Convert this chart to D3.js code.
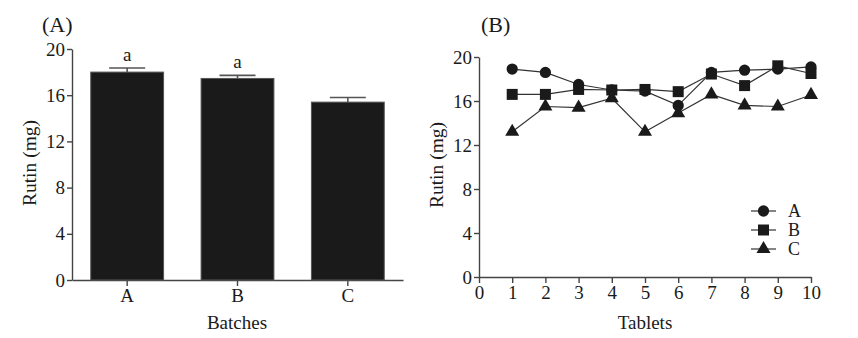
<!DOCTYPE html>
<html>
<head>
<meta charset="utf-8">
<script src="https://cdn.jsdelivr.net/npm/d3@7"></script>
<style>
  body { margin: 0; background: #fff; }
  svg { display: block; }
  .axis path, .axis line { stroke: #444; stroke-width: 1.4; }
</style>
</head>
<body>
<svg id="chart" width="858" height="338" font-family="Liberation Serif, Times New Roman, serif"></svg>
<script>
// Panel A: mean rutin per batch
const batches = ["A", "B", "C"];
const batchMeans = [18.0, 17.45, 15.4];
const batchErr = [0.35, 0.27, 0.4];
const batchLetters = ["a", "a", ""];

// Panel B: rutin per tablet
const tablets = [1, 2, 3, 4, 5, 6, 7, 8, 9, 10];
const seriesA = [18.9, 18.6, 17.5, 17.0, 16.9, 15.6, 18.6, 18.8, 18.9, 19.1];
const seriesB = [16.6, 16.6, 17.05, 17.0, 17.05, 16.85, 18.45, 17.4, 19.2, 18.5];
const seriesC = [13.2, 15.5, 15.4, 16.25, 13.2, 14.9, 16.6, 15.6, 15.5, 16.55];
const yTicks = [0, 4, 8, 12, 16, 20];
const xTicksB = [0, 1, 2, 3, 4, 5, 6, 7, 8, 9, 10];

const svg = d3.select("#chart");
const ink = "#1a1a1a";
const serif = "Liberation Serif, Times New Roman, serif";

function styleAxis(g) {
  g.attr("font-family", serif).attr("font-size", 19);
  g.selectAll("text").attr("fill", ink);
}

// ---------- panel A ----------
const xA = d3.scaleBand().domain(batches).range([72, 403])
  .paddingInner(0.34).paddingOuter(0.17);
const yA = d3.scaleLinear().domain([0, 20]).range([280, 49]);

svg.append("g").attr("class", "axis")
  .attr("transform", "translate(72,0)")
  .call(d3.axisLeft(yA).tickValues(yTicks).tickSize(5).tickSizeOuter(0).tickPadding(2))
  .call(styleAxis);

svg.append("g").attr("class", "axis")
  .attr("transform", "translate(0,280)")
  .call(d3.axisBottom(xA).tickSize(6).tickSizeOuter(0).tickPadding(3))
  .call(styleAxis);

const bars = batches.map((b, i) => ({ b, v: batchMeans[i], e: batchErr[i], l: batchLetters[i] }));

// error bars first so bar covers the lower half
const eb = svg.append("g").attr("stroke", "#555").attr("stroke-width", 1.6);
bars.forEach(d => {
  const cx = xA(d.b) + xA.bandwidth() / 2;
  eb.append("line").attr("x1", cx).attr("x2", cx).attr("y1", yA(d.v)).attr("y2", yA(d.v + d.e));
  eb.append("line").attr("x1", cx - 18).attr("x2", cx + 18).attr("y1", yA(d.v + d.e)).attr("y2", yA(d.v + d.e));
});

svg.append("g").selectAll("rect").data(bars).join("rect")
  .attr("x", d => xA(d.b))
  .attr("y", d => yA(d.v))
  .attr("width", xA.bandwidth())
  .attr("height", d => yA(0) - yA(d.v))
  .attr("fill", ink)
  .attr("stroke", "#555").attr("stroke-width", 1);

svg.append("g").selectAll("text").data(bars).join("text")
  .attr("x", d => xA(d.b) + xA.bandwidth() / 2)
  .attr("y", d => yA(d.v + d.e) - 7)
  .attr("text-anchor", "middle")
  .attr("font-size", 19).attr("fill", ink)
  .text(d => d.l);

svg.append("text").attr("x", 42).attr("y", 32).attr("font-size", 22).attr("fill", ink).text("(A)");
svg.append("text").attr("x", 237).attr("y", 329).attr("text-anchor", "middle")
  .attr("font-size", 19).attr("fill", ink).text("Batches");
svg.append("text").attr("transform", "translate(36,163) rotate(-90)")
  .attr("text-anchor", "middle").attr("font-size", 19.5).attr("fill", ink).text("Rutin (mg)");

// ---------- panel B ----------
const xB = d3.scaleLinear().domain([0, 10]).range([479, 811]);
const yB = d3.scaleLinear().domain([0, 20]).range([277, 57]);

svg.append("g").attr("class", "axis")
  .attr("transform", "translate(479,0)")
  .call(d3.axisLeft(yB).tickValues(yTicks).tickSize(5).tickSizeOuter(0).tickPadding(2))
  .call(styleAxis);

svg.append("g").attr("class", "axis")
  .attr("transform", "translate(0,277)")
  .call(d3.axisBottom(xB).tickValues(xTicksB).tickSize(6).tickSizeOuter(0).tickPadding(3))
  .call(styleAxis);

const series = [
  { name: "A", vals: seriesA, sym: d3.symbolCircle, size: 100 },
  { name: "B", vals: seriesB, sym: d3.symbolSquare, size: 121 },
  { name: "C", vals: seriesC, sym: d3.symbolTriangle, size: 85 }
];

const line = d3.line().x((d, i) => xB(tablets[i])).y(d => yB(d));

series.forEach(s => {
  svg.append("path").datum(s.vals)
    .attr("d", line).attr("fill", "none")
    .attr("stroke", "#333").attr("stroke-width", 1.2);
});
series.forEach(s => {
  svg.append("g").selectAll("path").data(s.vals).join("path")
    .attr("transform", (d, i) => `translate(${xB(tablets[i])},${yB(d)})`)
    .attr("d", d3.symbol().type(s.sym).size(s.size))
    .attr("fill", ink);
});

// legend
const leg = svg.append("g").attr("transform", "translate(751,211)");
series.forEach((s, i) => {
  const g = leg.append("g").attr("transform", `translate(0,${i * 19})`);
  g.append("line").attr("x1", 0).attr("x2", 25).attr("stroke", "#333").attr("stroke-width", 1.2);
  g.append("path").attr("transform", "translate(12.5,0)")
    .attr("d", d3.symbol().type(s.sym).size(s.size)).attr("fill", ink);
  g.append("text").attr("x", 37).attr("y", 6).attr("font-size", 18).attr("fill", ink).text(s.name);
});

svg.append("text").attr("x", 481).attr("y", 32).attr("font-size", 22).attr("fill", ink).text("(B)");
svg.append("text").attr("x", 645).attr("y", 329).attr("text-anchor", "middle")
  .attr("font-size", 19).attr("fill", ink).text("Tablets");
svg.append("text").attr("transform", "translate(443,165) rotate(-90)")
  .attr("text-anchor", "middle").attr("font-size", 19.5).attr("fill", ink).text("Rutin (mg)");
</script>
</body>
</html>
